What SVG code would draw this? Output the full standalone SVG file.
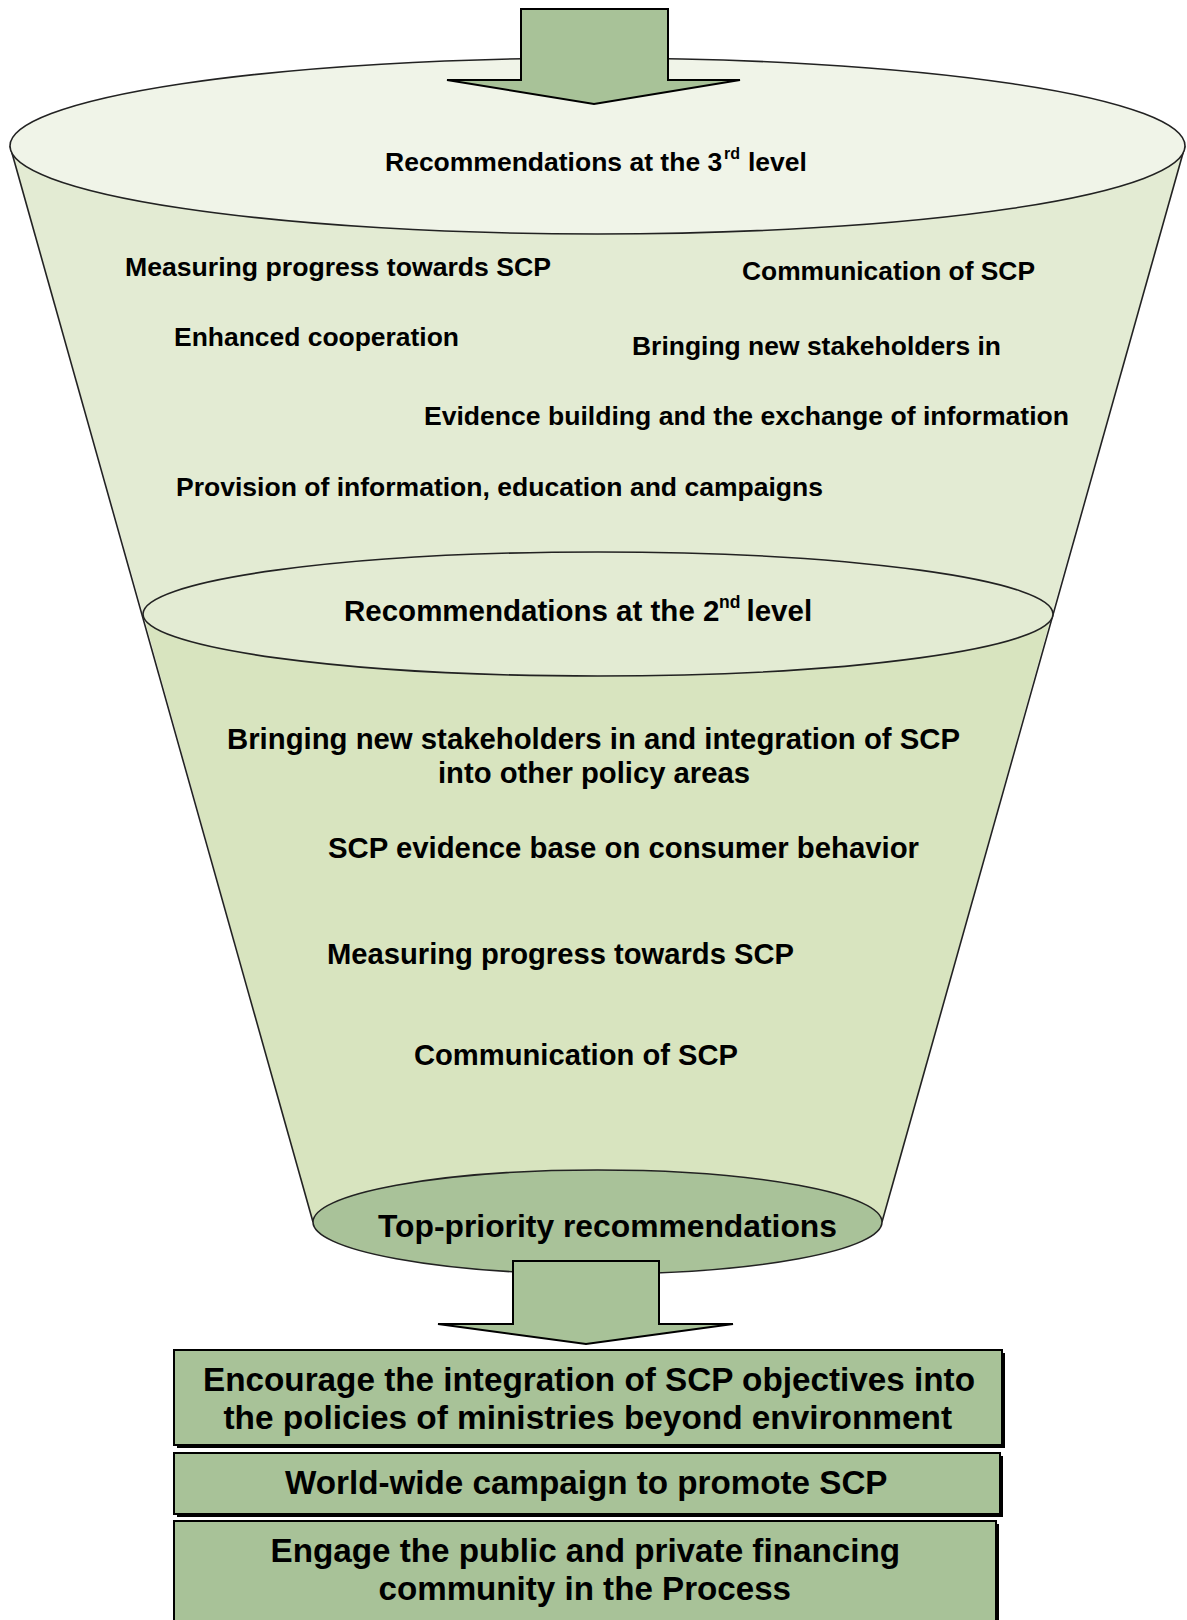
<svg xmlns="http://www.w3.org/2000/svg" width="1187" height="1620" viewBox="0 0 1187 1620">
<style>
  .t { font-family: "Liberation Sans", Arial, sans-serif; font-weight: bold; fill: #000; }
  .s1 { font-size: 26.5px; }
  .s2 { font-size: 29.5px; }
  .s3 { font-size: 31.5px; }
  .s4 { font-size: 33.5px; }
  .edge { stroke: #222; stroke-width: 1.6; }
  .arrow { fill: #a8c298; stroke: #000; stroke-width: 2; stroke-linejoin: miter; }
  .box { fill: #a8c298; stroke: #000; stroke-width: 2; }
  .shadow { fill: #000; }
</style>
<rect x="0" y="0" width="1187" height="1620" fill="#ffffff"/>

<g id="funnel">
  <polygon points="10,146 1185,146 1052,614 143,614" fill="#e3ebd3"/>
  <polygon points="143,614 1052,614 882,1222 313,1222" fill="#d8e4bf"/>
  <line class="edge" x1="10" y1="146" x2="313" y2="1222"/>
  <line class="edge" x1="1185" y1="146" x2="882" y2="1222"/>
</g>

<g id="level3">
  <ellipse cx="597.5" cy="146" rx="587.5" ry="88" fill="#f0f4e8" class="edge"/>
  <text class="t s1" x="385" y="171">Recommendations at the 3</text>
  <text class="t" x="724" y="159" font-size="16">rd</text>
  <text class="t s1" x="748" y="171">level</text>
  <text class="t s1" x="125" y="276" textLength="426" lengthAdjust="spacingAndGlyphs">Measuring progress towards SCP</text>
  <text class="t s1" x="742" y="280" textLength="293" lengthAdjust="spacingAndGlyphs">Communication of SCP</text>
  <text class="t s1" x="174" y="346" textLength="285" lengthAdjust="spacingAndGlyphs">Enhanced cooperation</text>
  <text class="t s1" x="632" y="355" textLength="369" lengthAdjust="spacingAndGlyphs">Bringing new stakeholders in</text>
  <text class="t s1" x="424" y="425" textLength="645" lengthAdjust="spacingAndGlyphs">Evidence building and the exchange of information</text>
  <text class="t s1" x="176" y="496" textLength="647" lengthAdjust="spacingAndGlyphs">Provision of information, education and campaigns</text>
</g>

<g id="level2">
  <ellipse cx="598" cy="614" rx="455" ry="62" fill="#e3ebd3" class="edge"/>
  <text class="t s2" x="344" y="621">Recommendations at the 2</text>
  <text class="t" x="719" y="608" font-size="17.5">nd</text>
  <text class="t s2" x="746.5" y="621">level</text>
  <text class="t s2" x="227" y="749" textLength="733" lengthAdjust="spacingAndGlyphs">Bringing new stakeholders in and integration of SCP</text>
  <text class="t s2" x="438" y="783" textLength="312" lengthAdjust="spacingAndGlyphs">into other policy areas</text>
  <text class="t s2" x="328" y="858" textLength="591" lengthAdjust="spacingAndGlyphs">SCP evidence base on consumer behavior</text>
  <text class="t s2" x="327" y="964" textLength="467" lengthAdjust="spacingAndGlyphs">Measuring progress towards SCP</text>
  <text class="t s2" x="414" y="1065" textLength="324" lengthAdjust="spacingAndGlyphs">Communication of SCP</text>
</g>

<g id="top-priority">
  <ellipse cx="597.5" cy="1222" rx="284.5" ry="52" fill="#a9c299" class="edge"/>
  <text class="t s3" x="378" y="1237" textLength="459" lengthAdjust="spacingAndGlyphs">Top-priority recommendations</text>
</g>

<g id="connectors">
  <polygon class="arrow" points="521,9 668,9 668,80 740,80 594,104 447,80 521,80"/>
  <polygon class="arrow" points="513,1261 659,1261 659,1324 733,1324 586,1344 438,1324 513,1324"/>
</g>

<g id="box-integration">
  <rect class="shadow" x="177" y="1353" width="828" height="95"/>
  <rect class="box" x="174" y="1350" width="828" height="95"/>
  <text class="t s4" x="203" y="1391" textLength="772" lengthAdjust="spacingAndGlyphs">Encourage the integration of SCP objectives into</text>
  <text class="t s4" x="223.5" y="1429" textLength="728.5" lengthAdjust="spacingAndGlyphs">the policies of ministries beyond environment</text>
</g>

<g id="box-campaign">
  <rect class="shadow" x="177" y="1456" width="826" height="61"/>
  <rect class="box" x="174" y="1453" width="826" height="61"/>
  <text class="t s4" x="285" y="1494" textLength="602.5" lengthAdjust="spacingAndGlyphs">World-wide campaign to promote SCP</text>
</g>

<g id="box-financing">
  <rect class="shadow" x="177" y="1524" width="822" height="110"/>
  <rect class="box" x="174" y="1521" width="822" height="110"/>
  <text class="t s4" x="270.5" y="1562" textLength="629.5" lengthAdjust="spacingAndGlyphs">Engage the public and private financing</text>
  <text class="t s4" x="378.5" y="1600" textLength="412.5" lengthAdjust="spacingAndGlyphs">community in the Process</text>
</g>
</svg>
